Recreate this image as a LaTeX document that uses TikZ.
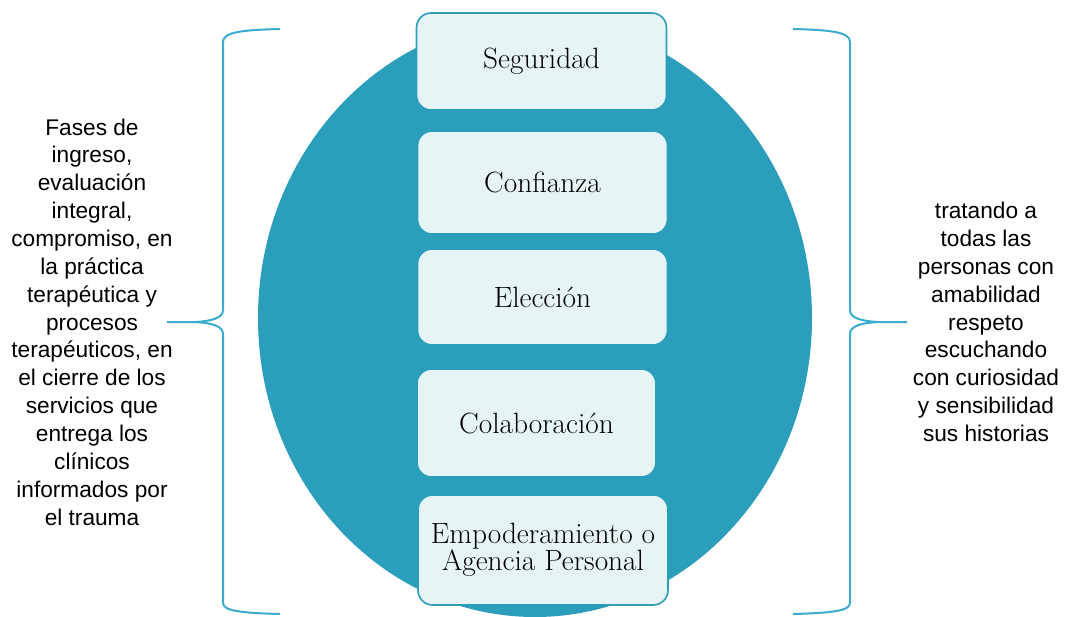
\documentclass[tikz,border=0pt]{standalone}
\usepackage{fontspec}
\usepackage{tikz}
\usetikzlibrary{arrows,positioning}
\newfontfamily\sidefont{Liberation Sans}
\definecolor{teal1}{RGB}{43,158,187}
\definecolor{pale}{RGB}{230,244,246}
\definecolor{bracecol}{RGB}{58,172,208}

\begin{document}
\begin{tikzpicture}[x=0.75pt,y=-0.75pt]
\tikzstyle{pillar}=[rectangle,rounded corners=11pt,fill=pale,draw=teal1,line width=1.2pt,inner sep=0pt,minimum width=187.5pt,align=center,font=\fontsize{22}{20}\selectfont]
\tikzstyle{side}=[align=center,font=\sidefont\fontsize{17}{20.9}\selectfont]
\tikzstyle{brace}=[draw=bracecol,line width=1.5pt]
\useasboundingbox (0,0) rectangle (1065,617);
\fill[white] (0,0) rectangle (1065,617);
\fill[teal1] (535,318) ellipse [x radius=207.75pt, y radius=224.25pt];
% the five principles
\node[pillar,minimum height=72.75pt] (seguridad) at (541.5,61.5) {Seguridad};
\node[pillar,minimum height=77.25pt] (confianza) at (542.5,182.5) {Confianza};
\node[pillar,minimum height=72pt] (eleccion) at (542.5,297) {Elección};
\node[pillar,minimum height=81pt,minimum width=179.25pt] (colaboracion) at (536.5,423) {Colaboración};
\node[pillar,minimum height=82.5pt] (empoderamiento) at (543,550) {Empoderamiento o\\Agencia Personal};
% side texts
\node[side] (fases) at (92,322) {Fases de\\ingreso,\\evaluación\\integral,\\compromiso, en\\la práctica\\terapéutica y\\procesos\\terapéuticos, en\\el cierre de los\\servicios que\\entrega los\\clínicos\\informados por\\el trauma};
\node[side] (trato) at (986,322) {tratando a\\todas las\\personas con\\amabilidad\\respeto\\escuchando\\con curiosidad\\y sensibilidad\\sus historias};
% braces
\draw[brace] (280,29) .. controls (242,30) and (223,32) .. (223,42) -- (223,310)
  .. controls (223,318) and (212,321) .. (195,322) -- (167,322);
\draw[brace] (195,322) .. controls (212,323) and (223,326) .. (223,334) -- (223,603)
  .. controls (223,611) and (242,613) .. (280,614);
\draw[brace] (793,29) .. controls (831,30) and (850,32) .. (850,42) -- (850,310)
  .. controls (850,318) and (861,321) .. (878,322) -- (907,322);
\draw[brace] (878,322) .. controls (861,323) and (850,326) .. (850,334) -- (850,603)
  .. controls (850,611) and (831,613) .. (793,614);
\end{tikzpicture}
\end{document}
